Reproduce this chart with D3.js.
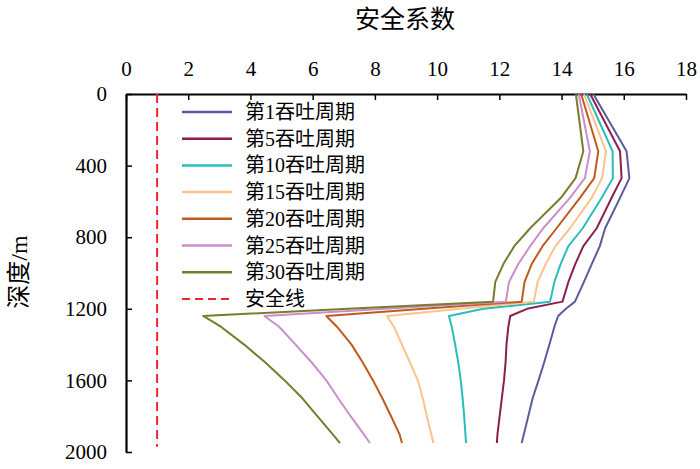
<!DOCTYPE html>
<html>
<head>
<meta charset="utf-8">
<script src="https://cdn.jsdelivr.net/npm/d3@7"></script>
<style>
  body { margin: 0; background: #fff; }
  svg text { font-family: "Times New Roman", "Liberation Serif", Tinos, "DejaVu Serif", serif; }
  svg text.cjk { font-family: "Times New Roman", "Liberation Serif", "DejaVu Serif", "Noto Sans CJK SC", serif; }
</style>
</head>
<body>
<div class="chart"></div>
<script>
// depth (m) shared by every series
var depths = [0, 320, 470, 580, 750, 850, 950, 1050, 1160, 1200, 1240, 1300, 1400, 1500, 1600, 1700, 1800, 1900, 1950];

var seriesNames = ["第1吞吐周期", "第5吞吐周期", "第10吞吐周期", "第15吞吐周期", "第20吞吐周期", "第25吞吐周期", "第30吞吐周期"];
var seriesColors = ["#5a5d9c", "#8c1f52", "#2bbcbc", "#fcc28f", "#c05a1d", "#c98fcb", "#797c2c"];

var cycle1  = [15.02, 16.09, 16.18, 15.88, 15.40, 15.23, 14.97, 14.72, 14.43, 14.14, 13.89, 13.77, 13.61, 13.44, 13.26, 13.07, 12.93, 12.79, 12.72];
var cycle5  = [14.92, 15.88, 15.93, 15.61, 15.13, 14.70, 14.44, 14.22, 14.03, 12.89, 12.35, 12.29, 12.23, 12.20, 12.15, 12.08, 12.01, 11.94, 11.92];
var cycle10 = [14.81, 15.64, 15.65, 15.29, 14.68, 14.22, 13.97, 13.77, 13.63, 11.49, 10.38, 10.47, 10.58, 10.68, 10.76, 10.82, 10.87, 10.91, 10.93];
var cycle15 = [14.72, 15.43, 15.30, 14.97, 14.27, 13.80, 13.49, 13.23, 13.11, 10.75, 8.39, 8.61, 8.87, 9.13, 9.38, 9.54, 9.67, 9.81, 9.88];
var cycle20 = [14.63, 15.18, 15.05, 14.59, 13.84, 13.39, 13.04, 12.81, 12.72, 9.58, 6.44, 6.78, 7.25, 7.61, 7.94, 8.24, 8.52, 8.79, 8.87];
var cycle25 = [14.55, 14.91, 14.75, 14.27, 13.41, 12.99, 12.61, 12.31, 12.21, 8.33, 4.45, 4.92, 5.45, 5.97, 6.44, 6.82, 7.22, 7.64, 7.84];
var cycle30 = [14.46, 14.70, 14.45, 13.98, 12.99, 12.48, 12.13, 11.87, 11.80, 7.14, 2.48, 3.05, 3.80, 4.48, 5.10, 5.67, 6.15, 6.64, 6.88];

var safetyValue = 1;
var safetyName = "安全线";

var xTicks = [0, 2, 4, 6, 8, 10, 12, 14, 16, 18];
var yTicks = [0, 400, 800, 1200, 1600, 2000];

var allSeries = [cycle1, cycle5, cycle10, cycle15, cycle20, cycle25, cycle30];

var width = 700, height = 469;
var margin = {top: 94, right: 14, bottom: 17, left: 126};

var svg = d3.select(".chart")
    .append("svg")
    .attr("width", width)
    .attr("height", height);

// scales
var x = d3.scaleLinear()
    .domain([0, 18])
    .range([margin.left, width - margin.right]);

var y = d3.scaleLinear()
    .domain([0, 2000])
    .range([margin.top, height - margin.bottom]);

// top axis, ticks pointing inside
var xAxis = svg.append("g")
    .attr("transform", "translate(0," + margin.top + ")")
    .call(d3.axisTop(x).tickValues(xTicks).tickFormat(d3.format("d")).tickSize(-6).tickPadding(18).tickSizeOuter(0));
xAxis.attr("font-family", null).attr("font-size", null);
xAxis.select(".domain").attr("stroke-width", 2.2);
xAxis.selectAll(".tick line").attr("stroke-width", 1.5);
xAxis.selectAll("text").style("font-size", "21px").attr("fill", "#000");

var yAxis = svg.append("g")
    .attr("transform", "translate(" + margin.left + ",0)")
    .call(d3.axisLeft(y).tickValues(yTicks).tickFormat(d3.format("d")).tickSize(-6).tickPadding(19).tickSizeOuter(0));
yAxis.attr("font-family", null).attr("font-size", null);
yAxis.select(".domain").attr("stroke-width", 2.2);
yAxis.selectAll(".tick line").attr("stroke-width", 1.5);
yAxis.selectAll("text").style("font-size", "21px").attr("fill", "#000");

// axis titles
svg.append("text")
    .attr("class", "cjk")
    .attr("x", 405).attr("y", 28)
    .attr("text-anchor", "middle")
    .style("font-size", "25px")
    .text("安全系数");

svg.append("text")
    .attr("class", "cjk")
    .attr("transform", "translate(27," + 272 + ") rotate(-90)")
    .attr("text-anchor", "middle")
    .style("font-size", "24px")
    .text("深度/m");

// safety line
svg.append("line")
    .attr("x1", x(safetyValue)).attr("x2", x(safetyValue))
    .attr("y1", y(0)).attr("y2", y(1970))
    .attr("stroke", "#f0272b")
    .attr("stroke-width", 2)
    .attr("stroke-dasharray", "9,5");

// curves
var line = d3.line()
    .x(function(d) { return x(d[0]); })
    .y(function(d) { return y(d[1]); });

allSeries.forEach(function(vals, i) {
    var pts = vals.map(function(v, j) { return [v, depths[j]]; });
    svg.append("path")
        .datum(pts)
        .attr("d", line)
        .attr("fill", "none")
        .attr("stroke", seriesColors[i])
        .attr("stroke-width", 2)
        .attr("stroke-linejoin", "round");
});

// legend
var legend = svg.append("g");
var legendItems = seriesNames.concat([safetyName]);
legendItems.forEach(function(name, i) {
    var ly = 112 + i * 26.7;
    var isSafety = i == seriesNames.length;
    legend.append("line")
        .attr("x1", 182).attr("x2", 232)
        .attr("y1", ly).attr("y2", ly)
        .attr("stroke", isSafety ? "#f0272b" : seriesColors[i])
        .attr("stroke-width", isSafety ? 2 : 2.5)
        .attr("stroke-dasharray", isSafety ? "8,5" : null);
    legend.append("text")
        .attr("class", "cjk")
        .attr("x", 245).attr("y", ly)
        .attr("dy", "0.35em")
        .style("font-size", "20px")
        .text(name);
});
</script>
</body>
</html>
